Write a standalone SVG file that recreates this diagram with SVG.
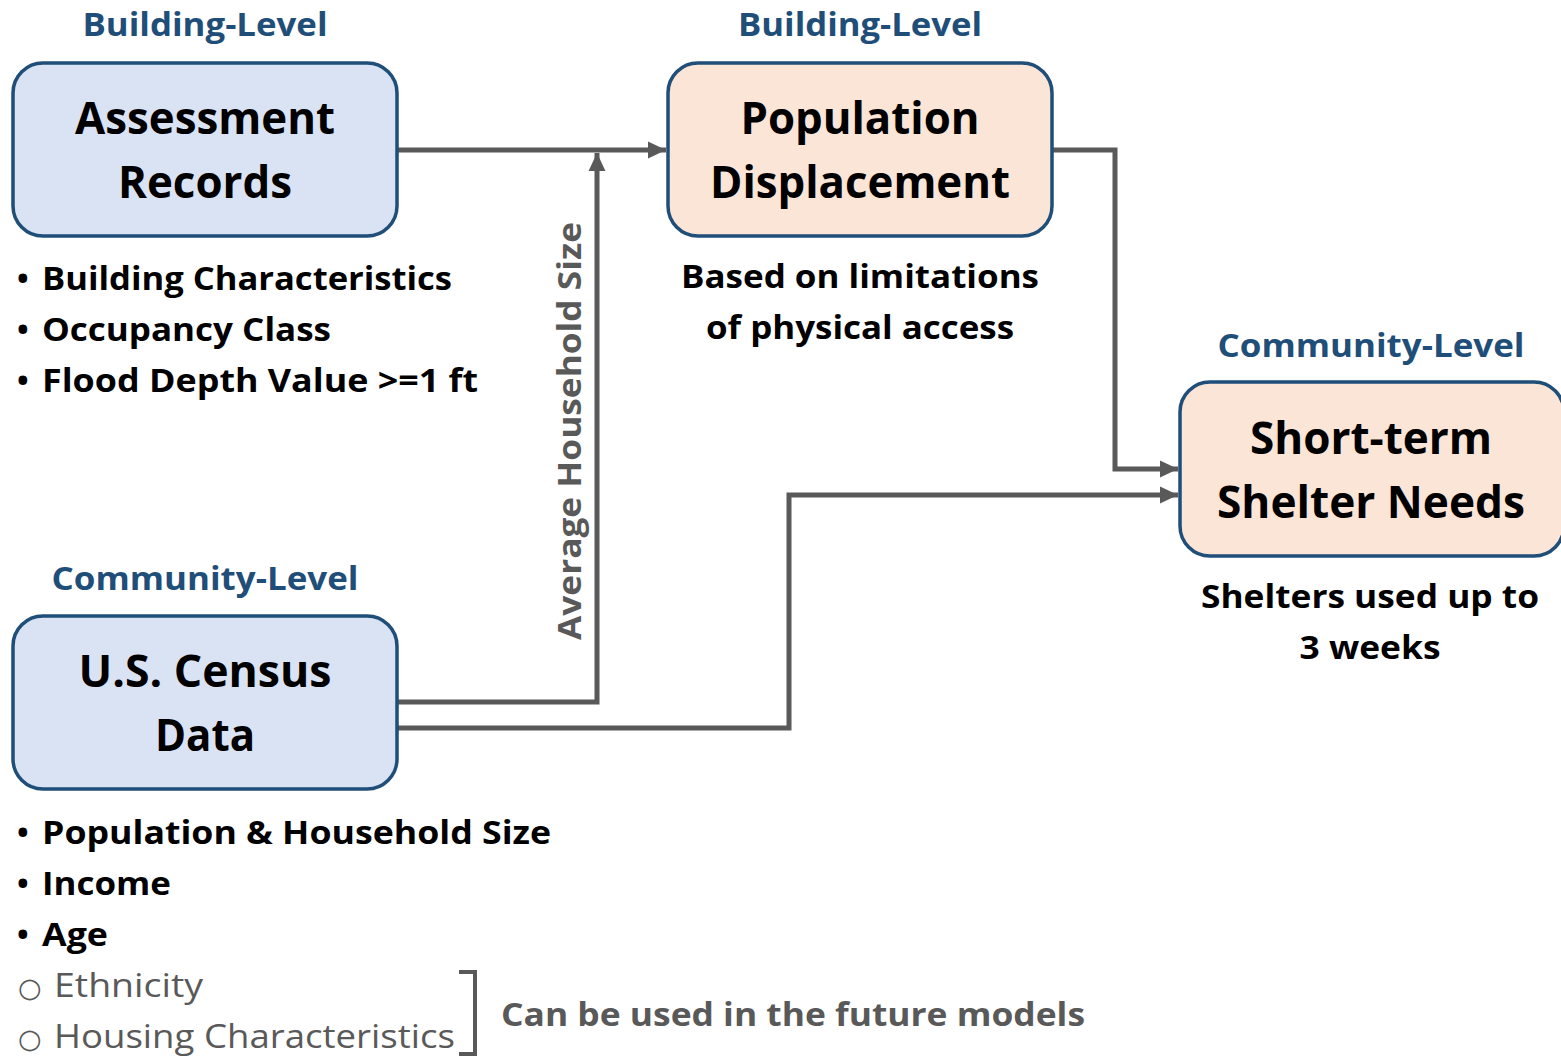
<svg xmlns="http://www.w3.org/2000/svg" width="1561" height="1058" viewBox="0 0 1561 1058">
<defs>
<marker id="arr" viewBox="0 0 10 10" refX="10" refY="5" markerWidth="18" markerHeight="18" markerUnits="userSpaceOnUse" orient="auto">
<path d="M0,0.3 L10,5 L0,9.7 z" fill="#595959"/>
</marker>
<style>
text{font-family:"Open Sans","Liberation Sans",sans-serif;font-weight:bold}
.lvl{fill:#1F4E79;font-size:33px;text-anchor:middle}
.ttl{fill:#000;font-size:45px;text-anchor:middle}
.bul{fill:#000;font-size:33px}
.dot{fill:#000;font-size:31px}
.cap{fill:#000;font-size:33px;text-anchor:middle}
.grey{fill:#595959;font-size:33px;font-weight:normal}
.circ{fill:#595959;font-size:27px;font-weight:normal;font-family:"DejaVu Sans",sans-serif}
.blue{fill:#DAE3F3;stroke:#1F4E79;stroke-width:3.5}
.peach{fill:#FBE5D6;stroke:#1F4E79;stroke-width:3.5}
.con{fill:none;stroke:#595959;stroke-width:5}
</style>
</defs>
<rect width="1561" height="1058" fill="#fff"/>
<g id="connectors">
<path class="con" d="M397,150 H666" marker-end="url(#arr)"/>
<path class="con" d="M397,702 H597 V153" marker-end="url(#arr)"/>
<path class="con" d="M397,728 H789 V495 H1178" marker-end="url(#arr)"/>
<path class="con" d="M1052,150 H1115 V469 H1178" marker-end="url(#arr)"/>
<text x="0" y="0" transform="translate(581,431) rotate(-90)" style="fill:#595959;font-size:33px;text-anchor:middle" textLength="418" lengthAdjust="spacingAndGlyphs">Average Household Size</text>
</g>
<g id="assessment">
<text class="lvl" x="205" y="36" textLength="245" lengthAdjust="spacingAndGlyphs">Building-Level</text>
<rect class="blue" x="13" y="63" width="384" height="173" rx="30"/>
<text class="ttl" x="205" y="134" textLength="260" lengthAdjust="spacingAndGlyphs">Assessment</text>
<text class="ttl" x="205" y="198" textLength="174" lengthAdjust="spacingAndGlyphs">Records</text>
<text class="dot" x="17" y="289">•</text>
<text class="bul" x="42" y="290" textLength="410" lengthAdjust="spacingAndGlyphs">Building Characteristics</text>
<text class="dot" x="17" y="340">•</text>
<text class="bul" x="42" y="341" textLength="289" lengthAdjust="spacingAndGlyphs">Occupancy Class</text>
<text class="dot" x="17" y="391">•</text>
<text class="bul" x="42" y="392" textLength="436" lengthAdjust="spacingAndGlyphs">Flood Depth Value &gt;=1 ft</text>
</g>
<g id="population">
<text class="lvl" x="860" y="36" textLength="244" lengthAdjust="spacingAndGlyphs">Building-Level</text>
<rect class="peach" x="668" y="63" width="384" height="173" rx="30"/>
<text class="ttl" x="860" y="134" textLength="239" lengthAdjust="spacingAndGlyphs">Population</text>
<text class="ttl" x="860" y="198" textLength="300" lengthAdjust="spacingAndGlyphs">Displacement</text>
<text class="cap" x="860" y="288" textLength="358" lengthAdjust="spacingAndGlyphs">Based on limitations</text>
<text class="cap" x="860" y="339" textLength="308" lengthAdjust="spacingAndGlyphs">of physical access</text>
</g>
<g id="shelter">
<text class="lvl" x="1371" y="357" textLength="307" lengthAdjust="spacingAndGlyphs">Community-Level</text>
<rect class="peach" x="1180" y="382" width="384" height="174" rx="30"/>
<text class="ttl" x="1371" y="454" textLength="242" lengthAdjust="spacingAndGlyphs">Short-term</text>
<text class="ttl" x="1371" y="518" textLength="308" lengthAdjust="spacingAndGlyphs">Shelter Needs</text>
<text class="cap" x="1370" y="608" textLength="338" lengthAdjust="spacingAndGlyphs">Shelters used up to</text>
<text class="cap" x="1370" y="659" textLength="141" lengthAdjust="spacingAndGlyphs">3 weeks</text>
</g>
<g id="census">
<text class="lvl" x="205" y="590" textLength="307" lengthAdjust="spacingAndGlyphs">Community-Level</text>
<rect class="blue" x="13" y="616" width="384" height="173" rx="30"/>
<text class="ttl" x="205" y="687" textLength="253" lengthAdjust="spacingAndGlyphs">U.S. Census</text>
<text class="ttl" x="205" y="751" textLength="100" lengthAdjust="spacingAndGlyphs">Data</text>
<text class="dot" x="17" y="843">•</text>
<text class="bul" x="42" y="844" textLength="509" lengthAdjust="spacingAndGlyphs">Population &amp; Household Size</text>
<text class="dot" x="17" y="894">•</text>
<text class="bul" x="42" y="895" textLength="129" lengthAdjust="spacingAndGlyphs">Income</text>
<text class="dot" x="17" y="945">•</text>
<text class="bul" x="42" y="946" textLength="66" lengthAdjust="spacingAndGlyphs">Age</text>
<text class="circ" x="18" y="997">○</text>
<text class="grey" x="54" y="997" textLength="149" lengthAdjust="spacingAndGlyphs">Ethnicity</text>
<text class="circ" x="18" y="1048">○</text>
<text class="grey" x="54" y="1048" textLength="401" lengthAdjust="spacingAndGlyphs">Housing Characteristics</text>
</g>
<g id="future">
<path d="M459,972 H475 V1054 H459" fill="none" stroke="#595959" stroke-width="4"/>
<text x="501" y="1026" style="fill:#595959;font-size:33px" textLength="584" lengthAdjust="spacingAndGlyphs">Can be used in the future models</text>
</g>
</svg>
